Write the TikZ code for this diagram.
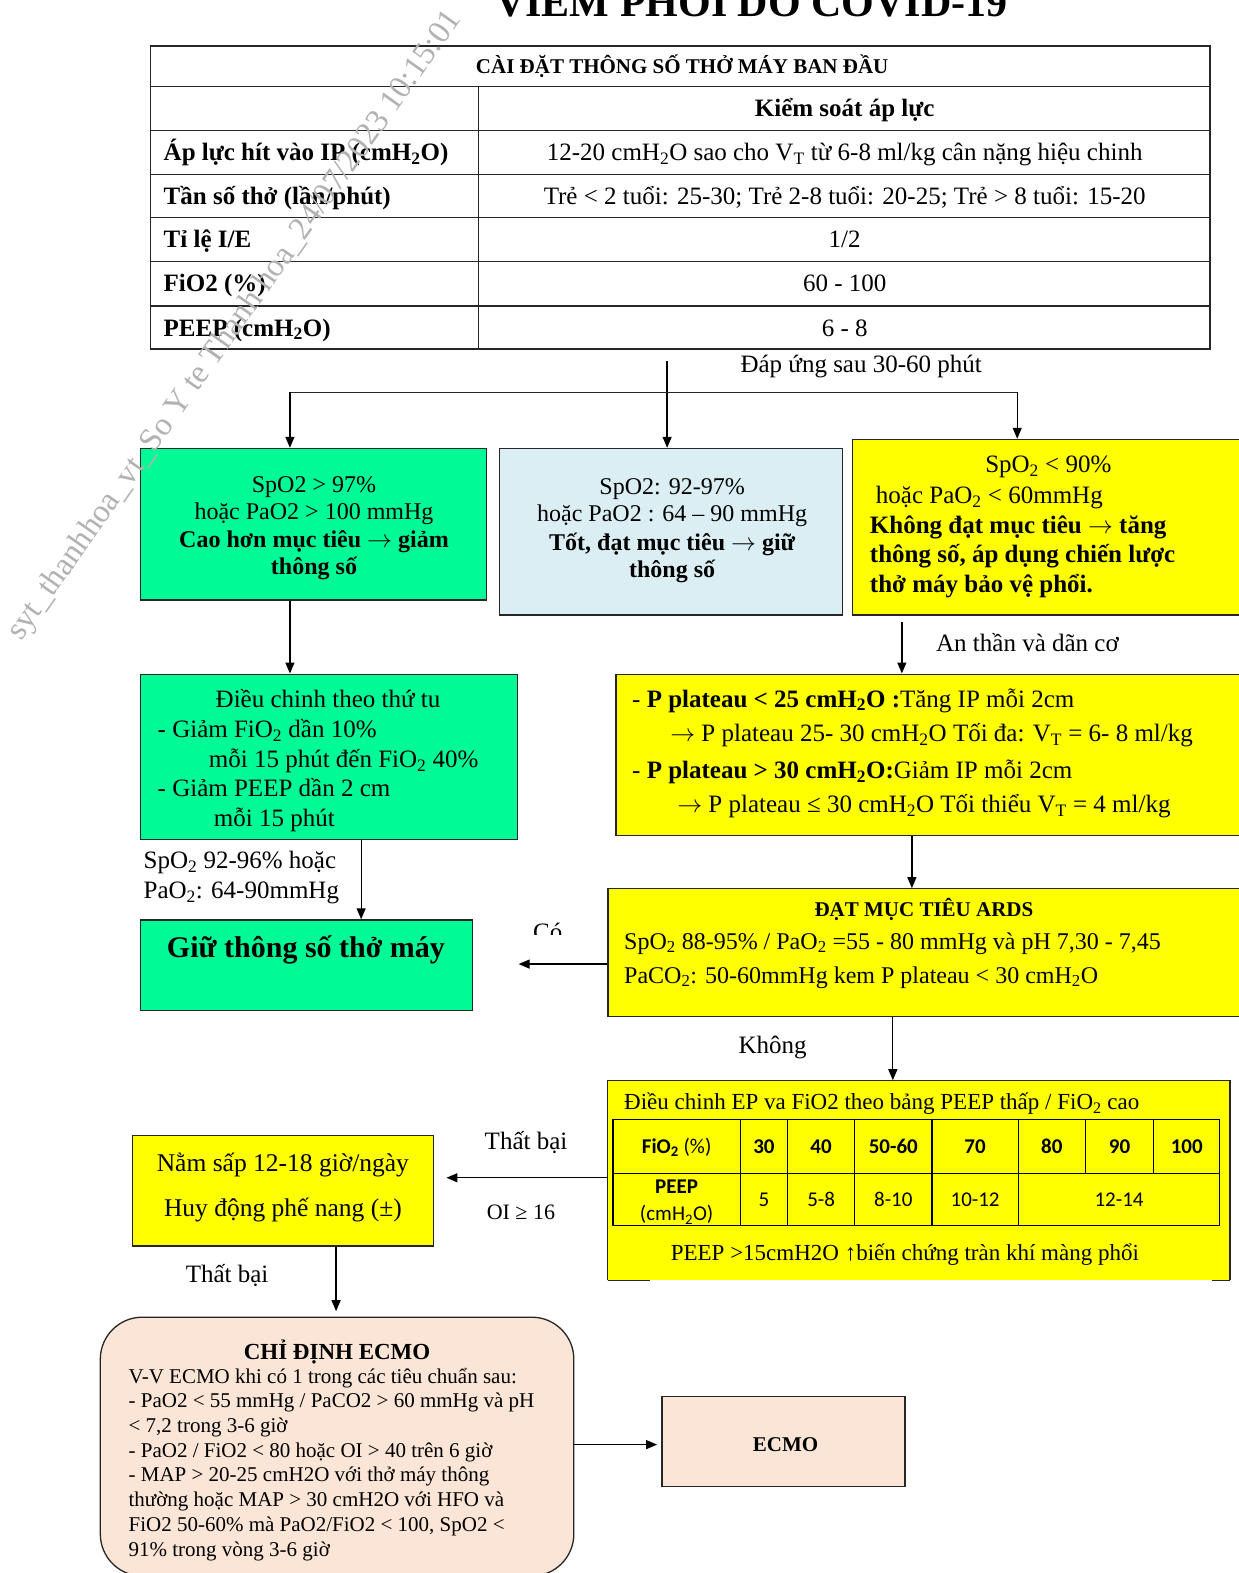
\documentclass[tikz,border=0pt]{standalone}
\usepackage{fontspec}
\setmainfont{Liberation Serif}
\newfontfamily\calib{Carlito}
\usetikzlibrary{arrows.meta,fit,calc}
\definecolor{gr}{RGB}{0,250,150}
\definecolor{ye}{RGB}{255,255,0}
\definecolor{lb}{RGB}{218,238,243}
\definecolor{pe}{RGB}{251,229,214}
\newcommand{\sbt}[1]{\textsubscript{#1}}
\newcommand{\fs}[1]{\fontsize{#1}{#1}\selectfont}
\newcommand{\rarr}{\ensuremath{\rightarrow}}
\begin{document}
\begin{tikzpicture}[x=1.0032pt,y=-1.0032pt,
  bx/.style={draw=black!85,line width=1.3pt,inner sep=0pt},
  arr/.style={line width=1.3pt,-{Triangle[length=11pt,width=9pt]}},
  ln/.style={line width=1.3pt,draw=black!85},
  tl/.style={inner sep=0pt,anchor=base west},
  tc/.style={inner sep=0pt,anchor=base},
  cb/.style={inner sep=0pt,anchor=base,font=\calib\fs{21}\bfseries},
  cr/.style={inner sep=0pt,anchor=base,font=\calib\fs{21}},
]
\useasboundingbox[fill=white] (0,0) rectangle (1235,1568);

% title (cut by page top)
\node[tc,font=\fs{42}\bfseries] (title) at (749,16) {VIÊM PHỔI DO COVID-19};

% initial settings table
\node[bx,fit={(150,46)(1206,348)}] (tbl) {};
\foreach \yy in {86,130,174,217,261,305} \draw[ln] (150,\yy) -- (1206,\yy);
\draw[ln] (477,86) -- (477,348);
\node[tc,font=\fs{21}\bfseries] (h0) at (680,73) {CÀI ĐẶT THÔNG SỐ THỞ MÁY BAN ĐẦU};
\node[tc,font=\fs{25}\bfseries] (h1) at (842,116) {Kiểm soát áp lực};
\node[tl,font=\fs{25}\bfseries] (r1) at (163,160) {Áp lực hít vào IP (cmH\sbt{2}O)};
\node[tl,font=\fs{25}\bfseries] (r2) at (163,204) {Tần số thở (lần/phút)};
\node[tl,font=\fs{25}\bfseries] (r3) at (163,247) {Tỉ lệ I/E};
\node[tl,font=\fs{25}\bfseries] (r4) at (163,291) {FiO2 (\%)};
\node[tl,font=\fs{25}\bfseries] (r5) at (163,335) {PEEP (cmH\sbt{2}O)};
\node[tc,font=\fs{25}] (v1) at (842,160) {12-20 cmH\sbt{2}O sao cho V\sbt{T} từ 6-8 ml/kg cân nặng hiệu chinh};
\node[tc,font=\fs{25}] (v2) at (842,204) {Trẻ < 2 tuổi: 25-30; Trẻ 2-8 tuổi: 20-25; Trẻ > 8 tuổi: 15-20};
\node[tc,font=\fs{25}] (v3) at (842,247) {1/2};
\node[tc,font=\fs{25}] (v4) at (842,291) {60 - 100};
\node[tc,font=\fs{25}] (v5) at (842,335) {6 - 8};

\node[tl,font=\fs{25}] (lab1) at (738,371) {Đáp ứng sau 30-60 phút};

% second row boxes
\node[bx,fill=gr,fit={(140,447)(485,598)}] (A) {};
\node[tc,font=\fs{24}] (a1) at (313,491) {SpO2 > 97\%};
\node[tc,font=\fs{24}] (a2) at (313,518) {hoặc PaO2 > 100 mmHg};
\node[tc,font=\fs{24}\bfseries] (a3) at (313,546) {Cao hơn mục tiêu \rarr{} giảm};
\node[tc,font=\fs{24}\bfseries] (a4) at (313,573) {thông số};

\node[bx,fill=lb,fit={(498,447)(840,613)}] (B) {};
\node[tc,font=\fs{24}] (b1) at (670,493) {SpO2: 92-97\%};
\node[tc,font=\fs{24}] (b2) at (670,520) {hoặc PaO2 : 64 – 90 mmHg};
\node[tc,font=\fs{24}\bfseries] (b3) at (670,549) {Tốt, đạt mục tiêu \rarr{} giữ};
\node[tc,font=\fs{24}\bfseries] (b4) at (670,576) {thông số};

\node[bx,fill=ye,fit={(850,438)(1245,613)}] (C) {};
\node[tc,font=\fs{25}] (c1t) at (1045,471) {SpO\sbt{2} < 90\%};
\node[tl,font=\fs{25}] (c2t) at (873,502) {hoặc PaO\sbt{2} < 60mmHg};
\node[tl,font=\fs{25}\bfseries] (c3t) at (867,532) {Không đạt mục tiêu \rarr{} tăng};
\node[tl,font=\fs{25}\bfseries] (c4t) at (867,561) {thông số, áp dụng chiến lược};
\node[tl,font=\fs{25}\bfseries] (c5t) at (867,591) {thở máy bảo vệ phổi.};

% connectors from table
\coordinate (c0) at (665,360);
\coordinate (cl) at (289,391);
\coordinate (crr) at (1014,391);
\draw[arr] (c0) -- (B.north -| c0);
\draw[ln] (cl) -- (crr);
\draw[arr] (cl) -- (A.north -| cl);
\draw[arr] (crr) -- (C.north -| crr);

% third row
\node[bx,fill=gr,fit={(140,672)(516,837)}] (D) {};
\node[tc,font=\fs{25}] (d1) at (327,705) {Điều chinh theo thứ tu};
\node[tl,font=\fs{25}] (d2) at (157,735) {- Giảm FiO\sbt{2} dần 10\%};
\node[tl,font=\fs{25}] (d3) at (208,765) {mỗi 15 phút đến FiO\sbt{2} 40\%};
\node[tl,font=\fs{25}] (d4) at (157,794) {- Giảm PEEP dần 2 cm};
\node[tl,font=\fs{25}] (d5) at (213,824) {mỗi 15 phút};

\node[bx,fill=ye,fit={(614,672)(1245,833)}] (E) {};
\node[tl,font=\fs{25}] (e1) at (630,705) {- \textbf{P plateau < 25 cmH\sbt{2}O :}Tăng IP mỗi 2cm};
\node[tl,font=\fs{25}] (e2) at (668,739) {\rarr{} P plateau 25- 30 cmH\sbt{2}O Tối đa: V\sbt{T} = 6- 8 ml/kg};
\node[tl,font=\fs{25}] (e3) at (630,776) {- \textbf{P plateau > 30 cmH\sbt{2}O:}Giảm IP mỗi 2cm};
\node[tl,font=\fs{25}] (e4) at (675,810) {\rarr{} P plateau ≤ 30 cmH\sbt{2}O Tối thiểu V\sbt{T} = 4 ml/kg};

\coordinate (xa) at (289,0);
\draw[arr] (A.south -| xa) -- (D.north -| xa);
\coordinate (xc) at (899,0);
\draw[arr] ([yshift=-6pt]C.south -| xc) -- (E.north -| xc);
\node[tl,font=\fs{25}] (lab2) at (933,649) {An thần và dãn cơ};

% fourth row
\node[bx,fill=gr,fit={(140,917)(471,1007)}] (F) {};
\node[tc,font=\fs{30}\bfseries] (f1) at (305,954) {Giữ thông số thở máy};

\node[bx,fill=ye,fit={(606,886)(1245,1013)}] (G) {};
\node[tc,font=\fs{21}\bfseries] (g1) at (921,914) {ĐẠT MỤC TIÊU ARDS};
\node[tl,font=\fs{24}] (g2) at (622,946) {SpO\sbt{2} 88-95\% / PaO\sbt{2} =55 - 80 mmHg và pH 7,30 - 7,45};
\node[tl,font=\fs{24}] (g3) at (622,980) {PaCO\sbt{2}: 50-60mmHg kem P plateau < 30 cmH\sbt{2}O};

\coordinate (xd) at (360,0);
\draw[arr] (D.south -| xd) -- (F.north -| xd);
\node[tl,font=\fs{25}] (lab3) at (143,866) {SpO\sbt{2} 92-96\% hoặc};
\node[tl,font=\fs{25}] (lab4) at (143,896) {PaO\sbt{2}: 64-90mmHg};

\coordinate (xe) at (909,0);
\draw[arr] (E.south -| xe) -- (G.north -| xe);

\coordinate (tf) at (517,961);
\draw[arr] (G.west |- tf) -- (tf);
\begin{scope}
\clip (515,900) rectangle (585,932);
\node[tc,font=\fs{25}] (co) at (546,937) {Có};
\end{scope}

% PEEP / FiO2 box
\node[inner sep=0pt,fill=ye,fit={(606,1077)(1226,1276)}] (H) {};
\draw[ln] (H.south west) -- (H.north west) -- (H.north east) -- (H.south east);
\draw[ln] (H.south west) -- ++(42,0);
\draw[ln] (H.south east) -- ++(-18,0);
\node[tl,font=\fs{23}] (h1t) at (622,1106) {Điều chinh EP va FiO2 theo bảng PEEP thấp / FiO\sbt{2} cao};
\draw[line width=1.1pt] (611,1116) rectangle (1216,1222);
\draw[line width=1.1pt] (611,1170) -- (1216,1170);
\foreach \xx in {738,785,852,929,1015} \draw[line width=1.1pt] (\xx,1116) -- (\xx,1222);
\foreach \xx in {1082,1150} \draw[line width=1.1pt] (\xx,1116) -- (\xx,1170);
\node[tc,font=\calib\fs{21}] (p0) at (674.5,1150) {\textbf{FiO\sbt{2}} (\%)};
\node[cb] (p1) at (761.5,1150) {30};
\node[cb] (p2) at (818.5,1150) {40};
\node[cb] (p3) at (890.5,1150) {50-60};
\node[cb] (p4) at (972,1150) {70};
\node[cb] (p5) at (1048.5,1150) {80};
\node[cb] (p6) at (1116,1150) {90};
\node[cb] (p7) at (1183,1150) {100};
\node[cb] (q0) at (674.5,1190) {PEEP};
\node[cr] (q0b) at (674.5,1217) {(cmH\sbt{2}O)};
\node[cr] (q1) at (761.5,1203) {5};
\node[cr] (q2) at (818.5,1203) {5-8};
\node[cr] (q3) at (890.5,1203) {8-10};
\node[cr] (q4) at (972,1203) {10-12};
\node[cr] (q5) at (1115.5,1203) {12-14};
\node[tc,font=\fs{23}] (h2t) at (902,1256) {PEEP >15cmH2O ↑biến chứng tràn khí màng phổi};

\coordinate (xg) at (890,0);
\draw[arr] (G.south -| xg) -- (H.north -| xg);
\node[tl,font=\fs{25}] (lab5) at (736,1050) {Không};

% prone box
\node[bx,fill=ye,fit={(132,1132)(432,1242)}] (I) {};
\node[tc,font=\fs{25.5}] (i1) at (282,1168) {Nằm sấp 12-18 giờ/ngày};
\node[tc,font=\fs{25.5}] (i2) at (282,1213) {Huy động phế nang (±)};

\coordinate (ti) at (445,1174);
\draw[arr] (H.west |- ti) -- (ti);
\node[tl,font=\fs{25}] (lab6) at (483,1146) {Thất bại};
\node[tl,font=\fs{22}] (lab7) at (485,1216) {OI ≥ 16};

% ECMO
\node[bx,fill=pe,rounded corners=42pt,fit={(100,1313)(572,1571)}] (J) {};
\node[tc,font=\fs{23}\bfseries] (j0) at (336,1355) {CHỈ ĐỊNH ECMO};
\node[tl,font=\fs{21}] (j1) at (128,1379) {V-V ECMO khi có 1 trong các tiêu chuẩn sau:};
\node[tl,font=\fs{21}] (j2) at (128,1403) {- PaO2 < 55 mmHg / PaCO2 > 60 mmHg và pH};
\node[tl,font=\fs{21}] (j3) at (128,1428) {< 7,2 trong 3-6 giờ};
\node[tl,font=\fs{21}] (j4) at (128,1453) {- PaO2 / FiO2 < 80 hoặc OI > 40 trên 6 giờ};
\node[tl,font=\fs{21}] (j5) at (128,1477) {- MAP > 20-25 cmH2O với thở máy thông};
\node[tl,font=\fs{21}] (j6) at (128,1502) {thường hoặc MAP > 30 cmH2O với HFO và};
\node[tl,font=\fs{21}] (j7) at (128,1527) {FiO2 50-60\% mà PaO2/FiO2 < 100, SpO2 <};
\node[tl,font=\fs{21}] (j8) at (128,1552) {91\% trong vòng 3-6 giờ};

\coordinate (tj) at (335,1307);
\draw[arr] (I.south -| tj) -- (tj);
\node[tl,font=\fs{25}] (lab8) at (185,1278) {Thất bại};

\node[bx,fill=pe,fit={(660,1392)(902,1482)}] (K) {};
\node[tc,font=\fs{21}\bfseries] (k1) at (783,1447) {ECMO};
\coordinate (te) at (655,1440);
\draw[arr] (J.east |- te) -- (te);

% watermark
\node[anchor=base west,rotate=54.7,inner sep=0pt,text=black!30,font=\fs{32.5}] (wm) at (21,640) {syt\_thanhhoa\_vt\_So Y te Thanh hoa\_24/07/2023 10:15:01};
\end{tikzpicture}
\end{document}
